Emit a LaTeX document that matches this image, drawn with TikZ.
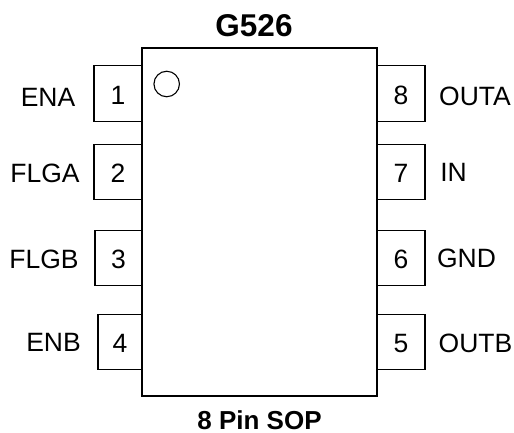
\documentclass[tikz,border=0pt]{standalone}
\usepackage{fontspec}
\setmainfont{Liberation Sans}
\tikzset{
  body/.style={draw=black,line width=1.6pt,minimum width=235pt,minimum height=348pt,inner sep=0pt},
  pinbox/.style={draw=black,line width=1.3pt,minimum width=#1,minimum height=55.5pt,inner sep=0pt,text height=21.4pt,text depth=0pt,font=\fontsize{26.5}{26.5}\selectfont},
  pinbox/.default=48pt,
  pinlabel/.style={inner sep=0pt,font=\fontsize{26.5}{26.5}\selectfont},
  caption/.style={inner sep=0pt,font=\bfseries\fontsize{26}{26}\selectfont},
  mark1/.style={circle,draw=black,line width=1.1pt,minimum size=25.5pt,inner sep=0pt}
}
\begin{document}
\begin{tikzpicture}[x=1pt,y=-1pt]
\useasboundingbox (0,0) rectangle (514,433);
\node[pinbox] (p1) at (118,93.5) {1};
\node[pinbox] (p2) at (118,172) {2};
\node[pinbox=47pt] (p3) at (118.5,258) {3};
\node[pinbox=44pt] (p4) at (120,342) {4};
\node[pinbox] (p8) at (401,93.5) {8};
\node[pinbox] (p7) at (401,172) {7};
\node[pinbox] (p6) at (401,258) {6};
\node[pinbox] (p5) at (401,342) {5};
\node[body] (chip) at (259.5,222) {};
\node[mark1] (dot) at (166.7,84) {};
\node[pinlabel] (l1) at (48,97.5) {ENA};
\node[pinlabel] (l2) at (45,173) {FLGA};
\node[pinlabel] (l3) at (44,259) {FLGB};
\node[pinlabel] (l4) at (53.5,342) {ENB};
\node[pinlabel] (l8) at (475,96) {OUTA};
\node[pinlabel] (l7) at (453.5,172) {IN};
\node[pinlabel] (l6) at (466.5,258) {GND};
\node[pinlabel] (l5) at (475.5,343) {OUTB};
\node[caption,font=\bfseries\fontsize{31.5}{31.5}\selectfont] (title) at (254,26) {G526};
\node[caption] (sub) at (259.5,420.5) {8 Pin SOP};
\end{tikzpicture}
\end{document}
